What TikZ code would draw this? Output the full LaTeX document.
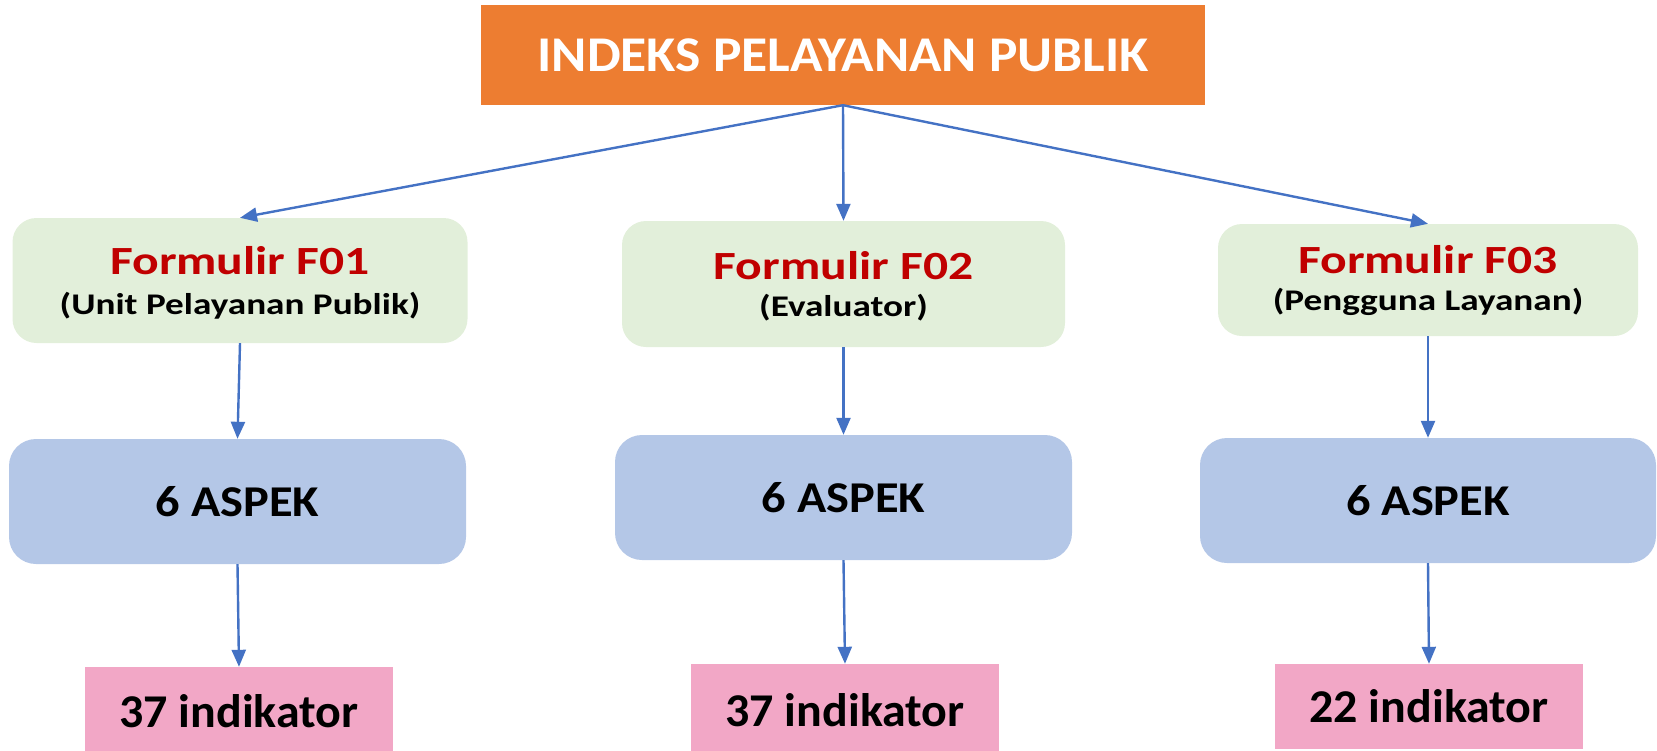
\documentclass[tikz,border=0pt]{standalone}
\usepackage{fontspec}
\setmainfont{Carlito}
\usetikzlibrary{arrows.meta}
\definecolor{orng}{HTML}{ED7D31}
\definecolor{grn}{HTML}{E2EFDA}
\definecolor{blu}{HTML}{B4C7E7}
\definecolor{pnk}{HTML}{F2A7C6}
\definecolor{redt}{HTML}{C00000}
\definecolor{arr}{HTML}{4472C4}
\tikzset{
  titlebox/.style={fill=orng, minimum width=724pt, minimum height=100pt, inner sep=0pt, text=white, font=\fontsize{50}{56}\selectfont\bfseries},
  formbox/.style={fill=grn, rounded corners=24pt, inner sep=0pt},
  formtxt/.style={inner sep=0pt, anchor=base, text=redt, font=\fontsize{40}{46}\selectfont\bfseries},
  subtxt/.style={inner sep=0pt, anchor=base, font=\fontsize{30}{36}\selectfont\bfseries},
  aspbox/.style={fill=blu, rounded corners=27pt, inner sep=0pt, font=\fontsize{44}{50}\selectfont\bfseries},
  indbox/.style={fill=pnk, inner sep=0pt, font=\fontsize{47}{52}\selectfont\bfseries},
  conn/.style={draw=arr, line width=2.4pt, -{Triangle[length=17pt,width=14pt]}},
}
\newcommand{\wideF}[1]{\scalebox{1.24}[1]{#1}}
\begin{document}
\begin{tikzpicture}[x=1pt,y=-1pt]
\useasboundingbox (0,0) rectangle (1657,750);
\clip (0,0) rectangle (1657,750);
\node[titlebox] (top) at (843,55) {\scalebox{1.07}[1]{INDEKS PELAYANAN PUBLIK}};
\node[formbox, minimum width=455pt, minimum height=125pt] (f1) at (240,280.5) {};
\node[formbox, minimum width=443pt, minimum height=126pt] (f2) at (843.5,284) {};
\node[formbox, minimum width=420pt, minimum height=112pt] (f3) at (1428,280) {};
\node[formtxt] (f1t) at ([yshift=6pt]f1.center) {\wideF{Formulir F01}};
\node[subtxt] (f1s) at ([yshift=-34pt]f1.center) {\wideF{(Unit Pelayanan Publik)}};
\node[formtxt] (f2t) at ([yshift=5pt]f2.center) {\wideF{Formulir F02}};
\node[subtxt] (f2s) at ([yshift=-32pt]f2.center) {\wideF{(Evaluator)}};
\node[formtxt] (f3t) at ([yshift=7pt]f3.center) {\wideF{Formulir F03}};
\node[subtxt] (f3s) at ([yshift=-30pt]f3.center) {\wideF{(Pengguna Layanan)}};
\node[aspbox, minimum width=457pt, minimum height=125pt] (a1) at (237.5,501.5) {\scalebox{1.1}[1]{6 ASPEK}};
\node[aspbox, minimum width=457pt, minimum height=125pt] (a2) at (843.5,497.5) {\scalebox{1.1}[1]{6 ASPEK}};
\node[aspbox, minimum width=456pt, minimum height=125pt] (a3) at (1428,500.5) {\scalebox{1.1}[1]{6 ASPEK}};
\node[indbox, minimum width=308pt, minimum height=88pt] (i1) at (239,711) {\scalebox{1.02}[1]{37 indikator}};
\node[indbox, minimum width=308pt, minimum height=92pt] (i2) at (845,710) {\scalebox{1.02}[1]{37 indikator}};
\node[indbox, minimum width=308pt, minimum height=85pt] (i3) at (1429,706.5) {\scalebox{1.02}[1]{22 indikator}};
\coordinate (tb) at (top.south);
\draw[conn] (tb) -- (f1.north);
\draw[conn] (tb) -- (f2.north);
\draw[conn] (tb) -- (f3.north);
\draw[conn] (f1.south) -- (a1.north);
\draw[conn] (f2.south) -- (a2.north);
\draw[conn] (f3.south) -- (a3.north);
\draw[conn] (a1.south) -- (i1.north);
\draw[conn] (a2.south) -- (i2.north);
\draw[conn] (a3.south) -- (i3.north);
\end{tikzpicture}
\end{document}
